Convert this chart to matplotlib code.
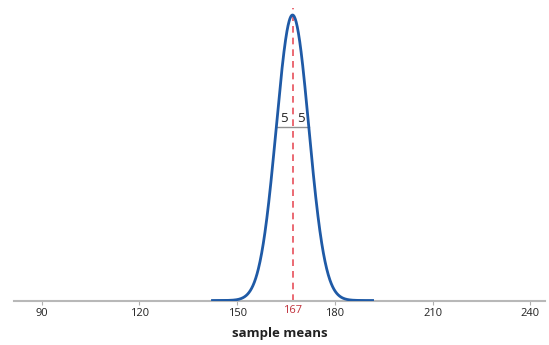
import numpy as np
import matplotlib
matplotlib.use("Agg")
import matplotlib.pyplot as plt

mean = 167
sd = 5
tick_values = [90, 120, 150, 180, 210, 240]
tick_labels = ["90", "120", "150", "180", "210", "240"]
sd_labels = ["5", "5"]
xlabel = "sample means"

plt.rcParams['font.family'] = ['Open Sans', 'DejaVu Sans']

fig = plt.figure(figsize=(5.49, 3.45), dpi=100)
ax = fig.add_axes([14/549, 1 - 300.5/345, (545 - 14)/549, (300.5 - 5)/345])

x = np.linspace(mean - 5 * sd, mean + 5 * sd, 600)
y = np.exp(-0.5 * ((x - mean) / sd) ** 2)
ax.plot(x, y, color='#1f5aa6', lw=2.0, solid_capstyle='butt', zorder=3)

ax.set_xlim(81.5, 244.5)
ax.set_ylim(0, 1 * (295.5 / 285.5))

# mean line
ax.axvline(mean, ymax=0.99, color='#e8505b', lw=1.2, ls=(0, (4, 3)), zorder=2)

# sd markers
h = np.exp(-0.5)
ax.plot([mean - sd, mean + sd], [h, h], color='#909090', lw=1.0, zorder=1)
ax.text(mean - sd / 2, h + 0.008, sd_labels[0], ha='center', va='bottom', fontsize=9.5, color='#222222')
ax.text(mean + sd / 2, h + 0.008, sd_labels[1], ha='center', va='bottom', fontsize=9.5, color='#222222')

ax.set_xticks(tick_values)
ax.set_xticklabels(tick_labels, fontsize=8, color='#222222')
ax.tick_params(axis='x', length=3, color='#b0b0b0', pad=2.5)
ax.set_yticks([])
for s in ['top', 'right', 'left']:
    ax.spines[s].set_visible(False)
ax.spines['bottom'].set_color('#b8b8b8')
ax.spines['bottom'].set_linewidth(1.5)

ax.annotate(str(mean), xy=(mean, 0), xycoords=ax.get_xaxis_transform(),
            xytext=(0, -3.5), textcoords='offset points', ha='center', va='top',
            fontsize=8, color='#c0303a')

ax.set_xlabel(xlabel, fontsize=9.5, fontweight='bold', color='#222222', labelpad=6)

fig.savefig("out.png", dpi=100)
